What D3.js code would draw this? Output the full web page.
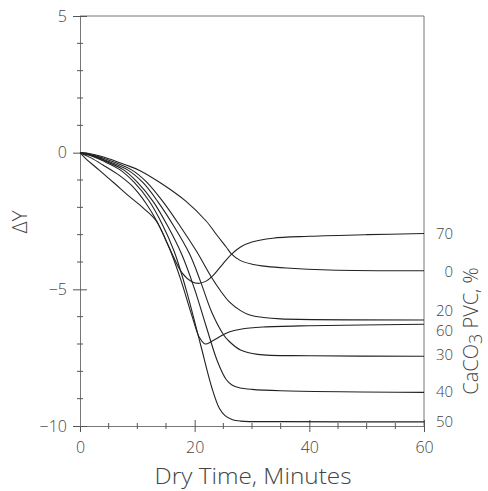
<!DOCTYPE html>
<html>
<head>
    <meta charset="utf-8">
    <title>Delta Y vs Dry Time</title>
    <script src="https://d3js.org/d3.v7.min.js"></script>
    <style>
        body { margin: 0; background: #fff; }
        text { font-family: "Open Sans", "Liberation Sans", sans-serif; font-weight: 300; fill: #444; }
        .curve { fill: none; stroke: #222; stroke-width: 1.1px; }
        .frame { stroke: #777; stroke-width: 1px; }
    </style>
</head>
<body>
<div id="chart"></div>

<script>
  // CaCO3 PVC levels (right-hand labels) and their curves, [minutes, dY]
  const pvcLabels = ["70", "0", "20", "60", "30", "40", "50"];
  const labelDY = [-2.97, -4.36, -5.8, -6.5, -7.4, -8.76, -9.83];

  const pvc70 = [[0,0],[1,-0.22],[3.3,-0.63],[6,-1.12],[8.6,-1.6],[11,-2.02],[13.3,-2.5],[15.5,-3.45],
    [17.8,-4.4],[19.5,-4.72],[20.8,-4.78],[22,-4.7],[23.1,-4.52],[25,-4.05],[26.4,-3.72],[28,-3.45],
    [30,-3.27],[33.6,-3.13],[40,-3.06],[50,-3.0],[60,-2.96]];
  const pvc0 = [[0,0],[2,-0.05],[5,-0.22],[8,-0.45],[10.3,-0.64],[14,-1.1],[18.5,-1.78],[22,-2.5],
    [24,-3.05],[25.5,-3.45],[26.4,-3.7],[28,-3.95],[30,-4.08],[32.5,-4.16],[36,-4.22],[43.5,-4.29],[60,-4.32]];
  const pvc20 = [[0,0],[2,-0.08],[4,-0.2],[9,-0.63],[11.5,-1.05],[14.5,-1.8],[17.5,-2.7],[20.3,-3.6],
    [22.9,-4.55],[24.5,-5.05],[26,-5.45],[28,-5.78],[29.6,-5.94],[32,-6.03],[35,-6.08],[60,-6.12]];
  const pvc60 = [[0,0],[2,-0.2],[4,-0.45],[6.8,-0.82],[9,-1.2],[11.5,-1.85],[13.5,-2.55],[15.6,-3.5],
    [17.5,-4.6],[19.5,-5.95],[20.8,-6.75],[21.8,-7.0],[23,-6.9],[24.9,-6.67],[26,-6.56],[28,-6.46],
    [31.9,-6.38],[40,-6.33],[60,-6.28]];
  const pvc30 = [[0,0],[2,-0.09],[4,-0.24],[8.3,-0.63],[11,-1.1],[13.6,-1.8],[16.4,-2.7],[19.1,-3.7],
    [21,-4.7],[23,-5.85],[25,-6.65],[26,-6.9],[28,-7.22],[31,-7.38],[40,-7.43],[60,-7.45]];
  const pvc40 = [[0,0],[2,-0.1],[4,-0.27],[7.6,-0.63],[10,-1.08],[12.8,-1.8],[15.2,-2.65],[17.7,-3.7],
    [20,-5.0],[22,-6.35],[24,-7.65],[25.5,-8.3],[26.5,-8.5],[27.8,-8.6],[30,-8.66],[35,-8.71],[60,-8.77]];
  const pvc50 = [[0,0],[2,-0.12],[4,-0.3],[7,-0.63],[9.5,-1.1],[12,-1.75],[14.3,-2.6],[16.4,-3.6],
    [18.5,-5.0],[21,-7.0],[23,-8.6],[24.3,-9.35],[25.3,-9.62],[26.6,-9.77],[28,-9.82],[35,-9.84],[60,-9.85]];
  const curves = [pvc70, pvc0, pvc20, pvc60, pvc30, pvc40, pvc50];

  const xMajor = [0, 20, 40, 60];
  const xMinor = [5, 10, 15, 25, 30, 35, 45, 50, 55];
  const yMajor = [5, 0, -5, -10];
  const yMinor = [4, 3, 2, 1, -1, -2, -3, -4, -6, -7, -8, -9];

  const width = 488, height = 491;
  const plotL = 80, plotR = 424, plotT = 16, plotB = 426;

  const x = d3.scaleLinear().domain([0, 60]).range([plotL, plotR]);
  const y = d3.scaleLinear().domain([-10, 5]).range([plotB, plotT]);

  const svg = d3.select("#chart").append("svg")
    .attr("width", width)
    .attr("height", height);

  // frame: top and right edges are plain lines
  svg.append("line").attr("class", "frame")
    .attr("x1", plotL).attr("x2", plotR).attr("y1", plotT).attr("y2", plotT);
  svg.append("line").attr("class", "frame")
    .attr("x1", plotR).attr("x2", plotR).attr("y1", plotT).attr("y2", plotB);

  // bottom axis, ticks cross the line
  const gx = svg.append("g").attr("transform", `translate(0,${plotB})`)
    .call(d3.axisBottom(x).tickValues(xMajor).tickSize(6).tickPadding(10));
  gx.selectAll(".tick line").attr("y1", -6);
  gx.append("g").selectAll("line").data(xMinor).join("line")
    .attr("x1", d => x(d)).attr("x2", d => x(d)).attr("y1", -3).attr("y2", 3);

  // left axis
  const gy = svg.append("g").attr("transform", `translate(${plotL},0)`)
    .call(d3.axisLeft(y).tickValues(yMajor).tickSize(7).tickPadding(6));
  gy.selectAll(".tick line").attr("x1", 7);
  gy.append("g").selectAll("line").data(yMinor).join("line")
    .attr("y1", d => y(d)).attr("y2", d => y(d)).attr("x1", -3).attr("x2", 3);

  [gx, gy].forEach(g => {
    g.select(".domain").attr("stroke", "#777");
    g.selectAll("line").attr("stroke", "#555");
    g.selectAll(".tick text").style("font-size", "16px").attr("fill", "#444");
  });

  // curves
  const line = d3.line()
    .x(d => x(d[0]))
    .y(d => y(d[1]))
    .curve(d3.curveCatmullRom.alpha(0.5));

  svg.append("g").selectAll("path")
    .data(curves)
    .join("path")
    .attr("class", "curve")
    .attr("d", line);

  // right-hand PVC labels
  svg.append("g").selectAll("text")
    .data(pvcLabels)
    .join("text")
    .attr("x", 453)
    .attr("y", (d, i) => y(labelDY[i]))
    .attr("dy", "0.35em")
    .attr("text-anchor", "end")
    .style("font-size", "15px")
    .text(d => d);

  // axis titles
  svg.append("text")
    .attr("x", (plotL + plotR) / 2 + 1)
    .attr("y", 484)
    .attr("text-anchor", "middle")
    .attr("textLength", 197)
    .attr("lengthAdjust", "spacingAndGlyphs")
    .style("font-size", "22px")
    .text("Dry Time, Minutes");

  svg.append("text")
    .attr("transform", "translate(27,222) rotate(-90)")
    .attr("text-anchor", "middle")
    .style("font-size", "21px")
    .text("\u0394Y");

  const rt = svg.append("text")
    .attr("transform", "translate(478,331) rotate(-90)")
    .attr("text-anchor", "middle")
    .style("font-size", "20px");
  rt.append("tspan").text("CaCO");
  rt.append("tspan").attr("baseline-shift", "-20%").style("font-size", "18px").text("3");
  rt.append("tspan").text(" PVC, %");
</script>
</body>
</html>
